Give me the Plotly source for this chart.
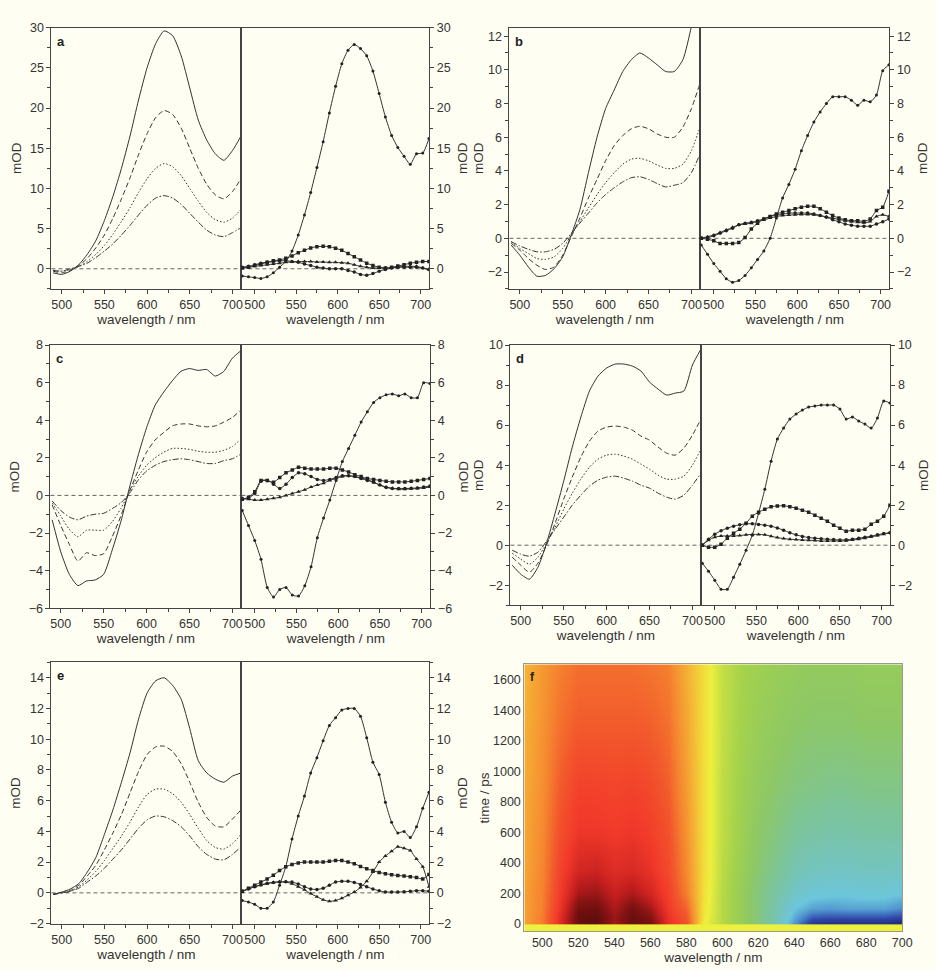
import plotly.graph_objects as go

# ---------------- data ----------------
WL_L = list(range(490, 711, 10))                 # left sub-panels (23 points)
WL_R = [485 + 7.5 * i for i in range(31)]        # right sub-panels (31 points)
X_TICKS = [500, 550, 600, 650, 700]

# panel a
a_solid = [-0.5, -0.7, -0.3, 0.5, 1.8, 3.5, 6.0, 9.0, 12.5, 16.5, 21.0, 25.0, 28.0, 29.6, 29.0, 26.5, 22.5, 18.5, 16.0, 14.3, 13.5, 14.7, 16.5]
a_dash = [-0.3, -0.5, -0.2, 0.4, 1.3, 2.6, 4.2, 6.3, 8.7, 11.3, 14.2, 16.8, 18.8, 19.7, 19.2, 17.5, 15.0, 12.5, 10.5, 9.2, 8.7, 9.6, 11.2]
a_dot = [-0.2, -0.3, -0.1, 0.3, 0.9, 1.8, 2.9, 4.3, 5.9, 7.6, 9.5, 11.2, 12.5, 13.1, 12.7, 11.6, 10.0, 8.4, 7.0, 6.1, 5.8, 6.3, 7.4]
a_dd = [-0.2, -0.3, 0.0, 0.3, 0.7, 1.4, 2.2, 3.1, 4.2, 5.4, 6.7, 7.9, 8.8, 9.1, 8.8, 8.0, 6.9, 5.8, 4.8, 4.2, 4.0, 4.5, 5.1]
ar_solid = [-0.9, -1.0, -1.1, -1.2, -1.0, -0.5, 0.2, 0.9, 2.2, 4.2, 6.7, 9.5, 12.6, 15.8, 19.4, 22.7, 25.5, 27.2, 27.9, 27.4, 26.5, 24.6, 21.8, 18.9, 16.6, 15.1, 14.0, 13.0, 14.3, 14.4, 16.2]
ar_sq = [0.1, 0.2, 0.4, 0.6, 0.8, 1.0, 1.1, 1.3, 1.6, 2.0, 2.3, 2.6, 2.75, 2.8, 2.75, 2.55, 2.3, 1.9, 1.5, 1.1, 0.7, 0.4, 0.2, 0.1, 0.2, 0.35, 0.5, 0.7, 0.8, 0.9, 0.9]
ar_ci = [0.2, 0.3, 0.5, 0.7, 0.8, 0.9, 1.0, 1.0, 0.9, 0.8, 0.6, 0.4, 0.2, 0.1, 0.0, 0.0, 0.0, -0.2, -0.4, -0.7, -0.8, -0.6, -0.3, -0.1, 0.1, 0.2, 0.2, 0.2, 0.2, 0.1, -0.1]
ar_tr = [0.1, 0.2, 0.3, 0.4, 0.5, 0.6, 0.7, 0.8, 0.85, 0.9, 0.9, 0.9, 0.85, 0.85, 0.8, 0.8, 0.75, 0.7, 0.5, 0.3, 0.2, 0.1, 0.1, 0.1, 0.1, 0.2, 0.3, 0.3, 0.3, 0.1, -0.1]

# panel b
b_solid = [-0.4, -1.0, -1.7, -2.25, -2.2, -1.8, -1.1, 0.2, 1.7, 3.9, 6.0, 7.7, 8.8, 9.9, 10.6, 11.0, 10.7, 10.3, 9.9, 9.9, 10.6, 12.6, 16.0]
b_dash = [-0.3, -0.7, -1.2, -1.6, -1.85, -1.7, -1.0, 0.1, 1.2, 2.4, 3.5, 4.6, 5.5, 6.1, 6.5, 6.65, 6.5, 6.2, 6.0, 6.0, 6.6, 7.7, 9.2]
b_dot = [-0.2, -0.6, -0.9, -1.2, -1.25, -1.1, -0.6, 0.2, 1.0, 1.8, 2.6, 3.3, 3.9, 4.4, 4.7, 4.75, 4.6, 4.35, 4.15, 4.15, 4.4, 5.2, 6.6]
b_dd = [-0.2, -0.45, -0.65, -0.8, -0.8, -0.65, -0.3, 0.3, 0.9, 1.5, 2.1, 2.6, 3.0, 3.35, 3.6, 3.65, 3.5, 3.25, 3.05, 3.15, 3.3, 3.9, 5.0]
br_solid = [-0.4, -0.95, -1.5, -1.95, -2.4, -2.6, -2.5, -2.2, -1.75, -1.25, -0.75, 0.0, 1.2, 2.4, 3.2, 4.1, 5.2, 6.1, 6.9, 7.5, 8.0, 8.4, 8.4, 8.4, 8.2, 7.9, 8.2, 8.1, 8.5, 9.95, 10.3]
br_sq = [0.0, -0.05, -0.15, -0.3, -0.3, -0.3, -0.25, 0.05, 0.55, 0.9, 1.15, 1.3, 1.45, 1.55, 1.65, 1.75, 1.85, 1.9, 1.9, 1.75, 1.55, 1.35, 1.2, 1.1, 1.05, 1.05, 1.0, 1.15, 1.65, 1.85, 2.8]
br_ci = [0.0, 0.05, 0.15, 0.3, 0.45, 0.6, 0.8, 0.9, 0.95, 1.05, 1.15, 1.3, 1.38, 1.45, 1.5, 1.5, 1.5, 1.5, 1.45, 1.35, 1.25, 1.1, 0.98, 0.85, 0.78, 0.72, 0.72, 0.72, 0.85, 0.98, 1.15]
br_tr = [0.0, 0.1, 0.2, 0.35, 0.5, 0.65, 0.8, 0.85, 0.9, 1.0, 1.1, 1.2, 1.3, 1.35, 1.38, 1.4, 1.42, 1.42, 1.4, 1.35, 1.28, 1.2, 1.12, 1.05, 1.0, 0.95, 0.92, 1.0, 1.3, 1.4, 1.3]

# panel c
c_solid = [-1.3, -3.0, -4.2, -4.8, -4.55, -4.5, -4.2, -2.9, -1.4, 0.4, 2.1, 3.6, 4.8, 5.5, 6.1, 6.6, 6.75, 6.65, 6.7, 6.35, 6.6, 7.3, 7.7]
c_dash = [-0.5, -1.6, -2.6, -3.5, -3.05, -3.2, -3.1, -2.2, -1.1, 0.2, 1.3, 2.3, 2.95, 3.35, 3.7, 3.8, 3.8, 3.7, 3.65, 3.7, 3.9, 4.15, 4.55]
c_dot = [-0.4, -1.1, -1.8, -2.2, -1.85, -1.85, -1.85, -1.4, -0.7, 0.2, 1.0, 1.6, 2.0, 2.3, 2.5, 2.5, 2.45, 2.35, 2.3, 2.3, 2.4, 2.6, 3.0]
c_dd = [-0.3, -0.8, -1.15, -1.3, -1.1, -1.0, -0.95, -0.7, -0.4, 0.1, 0.8, 1.3, 1.6, 1.8, 1.9, 1.95, 1.9, 1.8, 1.7, 1.7, 1.85, 1.95, 2.2]
cr_solid = [-0.8, -1.6, -2.4, -3.4, -4.9, -5.4, -5.0, -4.9, -5.3, -5.35, -4.8, -3.8, -2.25, -1.2, -0.25, 0.8, 1.8, 2.5, 3.2, 3.9, 4.45, 4.95, 5.2, 5.35, 5.4, 5.3, 5.4, 5.2, 5.2, 6.0, 5.95]
cr_sq = [-0.2, -0.1, 0.2, 0.8, 0.8, 0.7, 0.95, 1.2, 1.35, 1.5, 1.45, 1.4, 1.4, 1.4, 1.45, 1.45, 1.35, 1.25, 1.1, 1.0, 0.9, 0.85, 0.8, 0.75, 0.72, 0.72, 0.72, 0.75, 0.8, 0.85, 0.9]
cr_ci = [-0.2, -0.15, 0.1, 0.75, 0.8, 0.6, 0.37, 0.6, 0.95, 1.2, 1.15, 1.0, 0.85, 0.8, 0.85, 0.95, 1.05, 1.05, 1.0, 0.9, 0.8, 0.7, 0.55, 0.42, 0.37, 0.37, 0.37, 0.38, 0.4, 0.45, 0.5]
cr_tr = [-0.15, -0.2, -0.25, -0.25, -0.2, -0.15, -0.1, 0.0, 0.1, 0.2, 0.3, 0.45, 0.55, 0.65, 0.8, 0.9, 1.0, 1.05, 1.0, 0.92, 0.85, 0.7, 0.55, 0.45, 0.38, 0.33, 0.33, 0.35, 0.37, 0.4, 0.45]

# panel d
d_solid = [-1.0, -1.45, -1.7, -1.1, 0.1, 1.6, 3.2, 4.9, 6.4, 7.7, 8.45, 8.85, 9.05, 9.05, 8.95, 8.7, 8.15, 7.8, 7.5, 7.6, 7.7, 9.0, 9.8]
d_dash = [-0.6, -1.0, -1.35, -0.9, 0.0, 1.1, 2.3, 3.4, 4.4, 5.2, 5.7, 5.9, 5.95, 5.9, 5.75, 5.45, 5.25, 4.9, 4.6, 4.5, 4.85, 5.5, 6.3]
d_dot = [-0.4, -0.7, -0.95, -0.6, 0.1, 0.9, 1.8, 2.6, 3.3, 3.9, 4.3, 4.5, 4.55, 4.45, 4.3, 4.05, 3.8, 3.5, 3.3, 3.3, 3.45, 4.0, 4.8]
d_dd = [-0.25, -0.45, -0.55, -0.35, 0.2, 0.8, 1.4, 2.0, 2.5, 2.95, 3.25, 3.4, 3.45, 3.35, 3.2, 3.0, 2.85, 2.6, 2.4, 2.3, 2.5, 3.0, 3.6]
dr_solid = [-0.9, -1.3, -1.75, -2.2, -2.2, -1.6, -0.95, -0.25, 0.5, 1.6, 2.8, 4.2, 5.3, 5.85, 6.3, 6.55, 6.75, 6.9, 6.95, 7.0, 7.0, 7.0, 6.8, 6.3, 6.4, 6.2, 6.05, 5.85, 6.35, 7.2, 7.1]
dr_sq = [0.0, -0.1, -0.1, 0.05, 0.35, 0.6, 0.8, 1.1, 1.45, 1.65, 1.8, 1.92, 1.96, 1.97, 1.92, 1.85, 1.75, 1.65, 1.5, 1.35, 1.2, 1.0, 0.85, 0.7, 0.75, 0.75, 0.8, 1.05, 1.2, 1.45, 2.0]
dr_ci = [0.0, 0.3, 0.55, 0.72, 0.85, 0.95, 1.02, 1.07, 1.07, 1.04, 1.0, 0.95, 0.86, 0.75, 0.62, 0.52, 0.44, 0.38, 0.35, 0.32, 0.3, 0.28, 0.26, 0.27, 0.3, 0.35, 0.4, 0.45, 0.52, 0.58, 0.62]
dr_tr = [0.0, 0.25, 0.4, 0.46, 0.46, 0.46, 0.48, 0.52, 0.54, 0.54, 0.52, 0.45, 0.38, 0.33, 0.3, 0.28, 0.26, 0.25, 0.23, 0.21, 0.21, 0.21, 0.21, 0.22, 0.26, 0.3, 0.35, 0.42, 0.48, 0.55, 0.62]

# panel e
e_solid = [-0.1, 0.05, 0.25, 0.6, 1.35, 2.3, 3.8, 5.4, 7.2, 9.1, 11.3, 13.0, 13.8, 14.0, 13.5, 12.6, 10.7, 8.6, 7.8, 7.4, 7.2, 7.6, 7.8]
e_dash = [-0.1, 0.0, 0.15, 0.5, 1.1, 1.8, 2.8, 3.9, 5.1, 6.5, 7.9, 9.0, 9.5, 9.55, 9.2, 8.4, 7.2, 5.9, 4.9, 4.35, 4.3, 4.8, 5.4]
e_dot = [-0.1, 0.0, 0.1, 0.4, 0.85, 1.4, 2.1, 2.9, 3.7, 4.6, 5.6, 6.4, 6.75, 6.75, 6.45, 5.9, 5.1, 4.2, 3.4, 2.95, 2.85, 3.2, 3.8]
e_dd = [-0.1, 0.0, 0.1, 0.3, 0.7, 1.1, 1.6, 2.2, 2.8, 3.5, 4.2, 4.75, 5.0, 4.95, 4.7, 4.3, 3.7, 3.0, 2.5, 2.2, 2.15, 2.5, 3.0]
er_solid = [-0.5, -0.6, -0.75, -1.0, -1.0, -0.6, 0.5, 1.7, 3.5, 5.0, 6.3, 7.8, 8.8, 9.9, 10.9, 11.4, 11.9, 12.0, 12.0, 11.5, 10.1, 8.5, 7.7, 5.9, 4.6, 3.9, 4.0, 3.6, 4.3, 5.5, 6.55]
er_sq = [0.1, 0.3, 0.5, 0.7, 0.9, 1.15, 1.45, 1.7, 1.85, 1.95, 2.0, 2.0, 2.0, 2.0, 2.05, 2.1, 2.1, 2.0, 1.9, 1.72, 1.57, 1.45, 1.33, 1.25, 1.18, 1.13, 1.1, 1.05, 1.0, 0.9, 1.2]
er_ci = [0.1, 0.25, 0.4, 0.52, 0.62, 0.68, 0.7, 0.72, 0.7, 0.58, 0.4, 0.25, 0.22, 0.3, 0.5, 0.7, 0.75, 0.75, 0.68, 0.55, 0.4, 0.25, 0.13, 0.06, 0.05, 0.05, 0.07, 0.1, 0.14, 0.14, 0.1]
er_tr = [0.1, 0.25, 0.4, 0.5, 0.6, 0.68, 0.72, 0.7, 0.6, 0.4, 0.2, -0.05, -0.25, -0.45, -0.55, -0.5, -0.35, -0.15, 0.05, 0.35, 0.75, 1.35, 2.0, 2.4, 2.7, 3.0, 2.9, 2.75, 2.2, 1.7, 0.4]

# panel f (time-resolved map), rows = delay times
F_WL = list(range(490, 701, 10))
F_T = [-50, -1, 1, 40, 100, 200, 350, 600, 900, 1300, 1700]
f_m50 = [0.0] * 22
f_m1 = [0.0] * 22
f_1 = [-1.8, -2.6, -4.4, -6.0, -6.2, -5.2, -6.0, -5.8, -4.2, -3.5, 0.0, 1.2, 2.0, 2.8, 3.8, 5.5, 6.8, 7.0, 7.0, 7.0, 7.0, 7.2]
f_40 = [-1.8, -2.6, -4.4, -6.0, -6.1, -5.3, -6.0, -5.6, -4.2, -3.3, -0.2, 1.2, 2.0, 2.8, 3.8, 5.2, 6.2, 6.3, 6.3, 6.3, 6.3, 6.5]
f_100 = [-1.8, -2.5, -4.2, -5.8, -5.9, -5.1, -5.8, -5.2, -4.0, -3.0, -0.3, 1.2, 2.0, 2.8, 3.6, 4.8, 5.3, 5.4, 5.3, 5.3, 5.3, 5.6]
f_200 = [-1.8, -2.5, -4.0, -5.2, -5.3, -4.8, -5.1, -4.6, -3.8, -2.5, -0.4, 1.2, 2.0, 2.8, 3.4, 4.2, 4.6, 4.7, 4.7, 4.6, 4.6, 4.8]
f_350 = [-1.7, -2.4, -3.8, -4.6, -4.7, -4.4, -4.5, -4.2, -3.6, -2.3, -0.5, 1.1, 1.9, 2.6, 3.1, 3.7, 4.0, 4.1, 4.1, 4.0, 4.0, 4.1]
f_600 = [-1.7, -2.3, -3.5, -4.1, -4.1, -4.0, -4.1, -3.9, -3.4, -2.1, -0.5, 1.0, 1.8, 2.4, 2.8, 3.2, 3.4, 3.5, 3.5, 3.4, 3.4, 3.4]
f_900 = [-1.6, -2.2, -3.2, -3.8, -3.8, -3.7, -3.8, -3.6, -3.1, -1.9, -0.5, 1.0, 1.7, 2.2, 2.5, 2.8, 2.9, 3.0, 3.0, 2.9, 2.9, 2.9]
f_1300 = [-1.5, -2.1, -2.8, -3.2, -3.2, -3.2, -3.2, -3.1, -2.8, -1.7, -0.5, 0.9, 1.6, 2.0, 2.2, 2.4, 2.5, 2.5, 2.5, 2.4, 2.4, 2.4]
f_1700 = [-1.4, -2.0, -2.5, -2.8, -2.8, -2.8, -2.8, -2.7, -2.5, -1.5, -0.5, 0.9, 1.5, 1.8, 2.0, 2.1, 2.2, 2.2, 2.2, 2.1, 2.1, 2.1]
F_Z = [f_m50, f_m1, f_1, f_40, f_100, f_200, f_350, f_600, f_900, f_1300, f_1700]

# ---------------- styling ----------------
BG = '#FEFEF2'
INK = '#333333'
FRAME = '#444444'
FONT = 'Liberation Sans, Arial, sans-serif'
W, H = 936, 970
TICK_SIZE = 12.5
TITLE_SIZE = 13.5


def dx(a, b):
    return [a / W, b / W]


def dy(top, bottom):
    return [1 - bottom / H, 1 - top / H]


def xr(i):
    return 'x' if i == 1 else f'x{i}'


def yr(i):
    return 'y' if i == 1 else f'y{i}'


PANELS = {
    'a': dict(xl=52, xm=244, xr=434, yt=21, yb=286, yr=[-2.5, 30], dt=5, mdt=2.5, lso=5,
              left=[a_solid, a_dash, a_dot, a_dd], right=[ar_solid, ar_sq, ar_ci, ar_tr]),
    'b': dict(xl=515, xm=708, xr=899, yt=21, yb=286, yr=[-3, 12.5], dt=2, mdt=1, lso=1,
              left=[b_solid, b_dash, b_dot, b_dd], right=[br_solid, br_sq, br_ci, br_tr]),
    'c': dict(xl=51, xm=244, xr=435, yt=343, yb=610, yr=[-6, 8], dt=2, mdt=1, lso=5,
              left=[c_solid, c_dash, c_dot, c_dd], right=[cr_solid, cr_sq, cr_ci, cr_tr]),
    'd': dict(xl=516, xm=709, xr=900, yt=343, yb=607, yr=[-3, 10], dt=2, mdt=1, lso=1,
              left=[d_solid, d_dash, d_dot, d_dd], right=[dr_solid, dr_sq, dr_ci, dr_tr]),
    'e': dict(xl=52, xm=244, xr=434, yt=665, yb=930, yr=[-2, 15], dt=2, mdt=1, lso=5,
              left=[e_solid, e_dash, e_dot, e_dd], right=[er_solid, er_sq, er_ci, er_tr]),
}

DASHES = ['solid', '5px,3px', '1.5px,2px', '6px,2px,1.5px,2px']
SYMBOLS = [('circle', 3), ('square', 3.5), ('circle', 3.5), ('triangle-up', 4)]

fig = go.Figure()
layout = {}
shapes = []
annotations = []


def base_axis():
    return dict(showline=True, linecolor=FRAME, linewidth=1, mirror=True,
                ticks='outside', ticklen=4, tickwidth=1, tickcolor=FRAME,
                tickfont=dict(size=TICK_SIZE, color=INK, family=FONT),
                showgrid=False, zeroline=False, fixedrange=True)


n = 0
for letter, p in PANELS.items():
    iL, iR = n + 1, n + 2
    n += 2
    for idx, side in ((iL, 'L'), (iR, 'R')):
        xname = 'xaxis' if idx == 1 else f'xaxis{idx}'
        yname = 'yaxis' if idx == 1 else f'yaxis{idx}'
        xa = base_axis()
        if side == 'L':
            xa.update(domain=dx(p['xl'], p['xm']), range=[488, 710.5])
        else:
            xa.update(domain=dx(p['xm'], p['xr']), range=[484, 710.5])
        xa.update(anchor=yr(idx), tickvals=X_TICKS,
                  minor=dict(ticks='outside', ticklen=3, tickcolor=FRAME, tickvals=[525, 575, 625, 675]),
                  title=dict(text='wavelength / nm', font=dict(size=TITLE_SIZE, color=INK, family=FONT), standoff=2))
        ya = base_axis()
        ya.update(domain=dy(p['yt'], p['yb']), range=p['yr'], anchor=xr(idx), dtick=p['dt'], tick0=0,
                  minor=dict(ticks='outside', ticklen=3, tickcolor=FRAME, dtick=p['mdt'], tick0=0),
                  side='left' if side == 'L' else 'right',
                  title=dict(text='mOD', font=dict(size=TITLE_SIZE, color=INK, family=FONT),
                             standoff=p['lso'] if side == 'L' else 7))
        layout[xname] = xa
        layout[yname] = ya
        shapes.append(dict(type='line', xref=f'{xr(idx)} domain', yref=yr(idx), x0=0, x1=1, y0=0, y1=0,
                           line=dict(color='#666666', width=1, dash='4px,3px'), layer='below'))
    for yv, dsh in zip(p['left'], DASHES):
        fig.add_trace(go.Scatter(x=WL_L, y=yv, mode='lines', xaxis=xr(iL), yaxis=yr(iL),
                                 line=dict(color=INK, width=1, dash=dsh, shape='spline', smoothing=0.6),
                                 showlegend=False, hoverinfo='skip', cliponaxis=True))
    for yv, (sym, sz) in zip(p['right'], SYMBOLS):
        fig.add_trace(go.Scatter(x=WL_R, y=yv, mode='lines+markers', xaxis=xr(iR), yaxis=yr(iR),
                                 line=dict(color=INK, width=1, shape='spline', smoothing=0.6),
                                 marker=dict(symbol=sym, size=sz, color='#222222'),
                                 showlegend=False, hoverinfo='skip', cliponaxis=True))
    annotations.append(dict(text=f'<b>{letter}</b>', xref=f'{xr(iL)} domain', yref=f'{yr(iL)} domain',
                            x=0.02, y=0.985, xanchor='left', yanchor='top', showarrow=False,
                            font=dict(size=13, color='#222222', family=FONT)))

# panel f heat map
F_SCALE_Z = [-6.2, -5.5, -4.8, -4.0, -3.2, -2.4, -1.5, -0.6, 0.0, 0.8, 1.6, 2.4, 3.2, 4.0, 4.8, 5.6, 6.4, 7.2]
F_SCALE_C = ['#5c0c0c', '#8a1414', '#c82020', '#f23a2a', '#f25a2c', '#f5862f', '#f5b035', '#f2dc3a',
             '#eef03e', '#c8e044', '#a4d24c', '#8ec866', '#7cc49a', '#74c4c0', '#6cc6dc', '#4c8ccc',
             '#3048a8', '#1e2878']
zmin, zmax = F_SCALE_Z[0], F_SCALE_Z[-1]
colorscale = [[(z - zmin) / (zmax - zmin), c] for z, c in zip(F_SCALE_Z, F_SCALE_C)]

fig.add_trace(go.Heatmap(x=F_WL, y=F_T, z=F_Z, colorscale=colorscale, zmin=zmin, zmax=zmax,
                         zsmooth='best', showscale=False, xaxis='x11', yaxis='y11', hoverinfo='skip'))
fx = base_axis()
fx.update(domain=dx(530, 912), range=[490, 700], anchor='y11', dtick=20, tick0=500, ticks='',
          linecolor='#9a9a88', title=dict(text='wavelength / nm', font=dict(size=TITLE_SIZE, color=INK, family=FONT), standoff=0))
fy = base_axis()
fy.update(domain=dy(667, 938), range=[-50, 1700], anchor='x11', dtick=200, tick0=0, ticks='',
          linecolor='#9a9a88', title=dict(text='time / ps', font=dict(size=TITLE_SIZE, color=INK, family=FONT), standoff=0))
layout['xaxis11'] = fx
layout['yaxis11'] = fy
annotations.append(dict(text='<b>f</b>', xref='x11 domain', yref='y11 domain', x=0.01, y=0.985,
                        xanchor='left', yanchor='top', showarrow=False,
                        font=dict(size=12, color='#222222', family=FONT)))

fig.update_layout(width=W, height=H, margin=dict(l=0, r=0, t=0, b=0),
                  paper_bgcolor=BG, plot_bgcolor=BG, showlegend=False,
                  font=dict(family=FONT, color=INK), shapes=shapes, annotations=annotations, **layout)

fig.write_html('out.html')
